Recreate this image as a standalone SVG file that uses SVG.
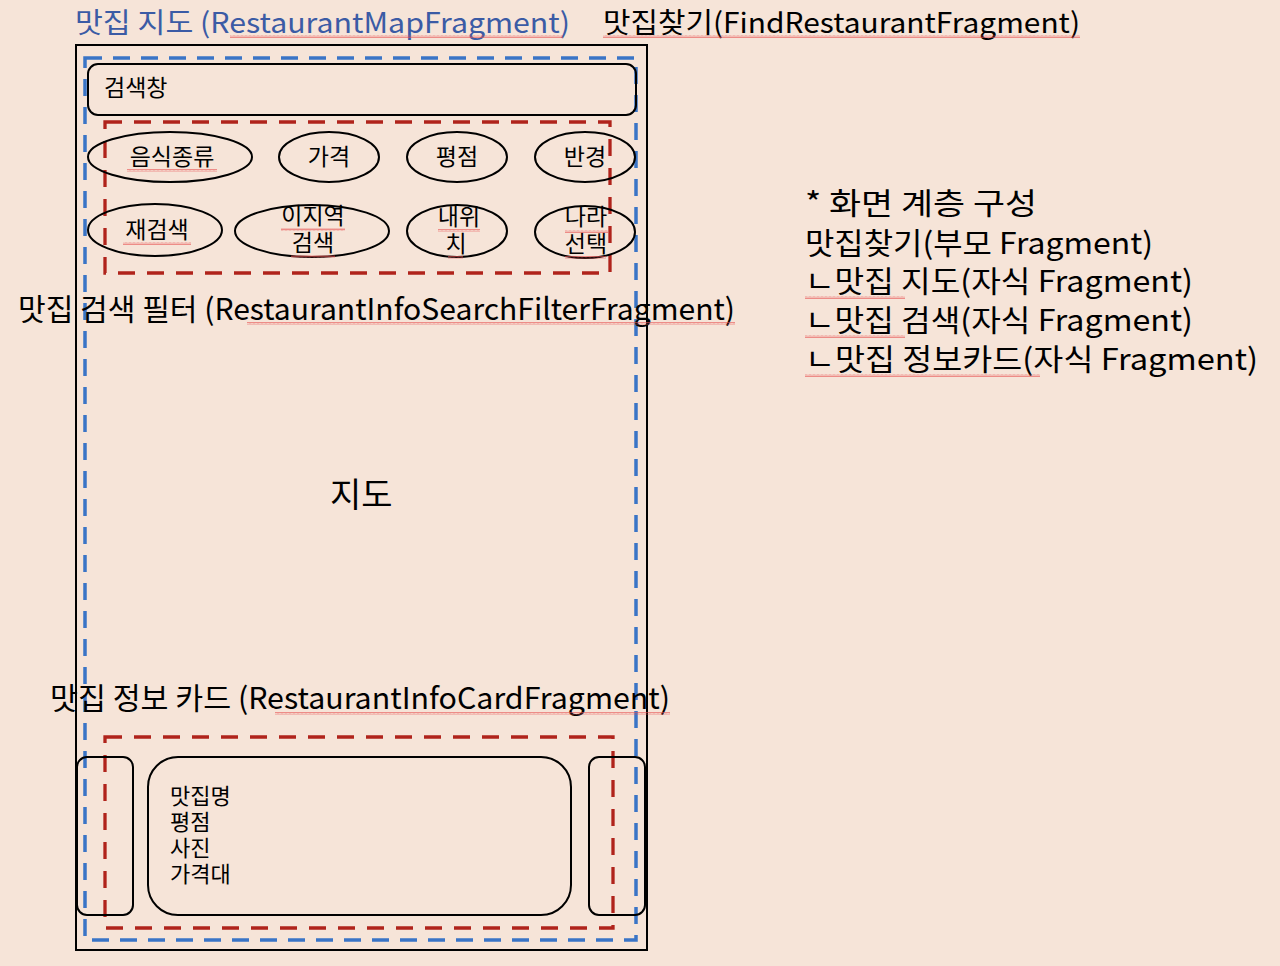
<svg xmlns="http://www.w3.org/2000/svg" width="1280" height="966" viewBox="0 0 1280 966">
<defs>
<pattern id="sq" width="4" height="3" patternUnits="userSpaceOnUse">
<path d="M0 2.5 L1 0.5 L2 2.5 L3 0.5 L4 2.5" fill="none" stroke="#E85050" stroke-width="0.6"/>
</pattern>
<style>
.t{font-family:"Noto Sans CJK KR","Noto Sans",sans-serif;fill:#000}
.blue{fill:#3B5BA5}
.box{fill:none;stroke:#000;stroke-width:2}
.bd{fill:none;stroke:#3A74C6;stroke-width:3.5;stroke-dasharray:17 11}
.rd{fill:none;stroke:#B0231B;stroke-width:3.3;stroke-dasharray:17 12}
.el{fill:none;stroke:#000;stroke-width:2}
.sq{fill:url(#sq)}
.e{font-size:23px;text-anchor:middle}
</style>
</defs>
<rect width="1280" height="966" fill="#F6E4D8"/>

<g id="phone"><rect class="box" x="76" y="45" width="571" height="905"/></g>
<g id="map-fragment"><rect class="bd" x="85" y="58" width="551" height="882"/></g>
<g id="search-box">
<rect class="box" x="88" y="64" width="548" height="51" rx="10"/>
<text class="t" x="104" y="96" font-size="23">검색창</text>
</g>
<g id="filter-fragment"><rect class="rd" x="105" y="122" width="505" height="151"/></g>

<g id="f-food"><ellipse class="el" cx="170" cy="157" rx="82" ry="25"/><text class="t e" x="172" y="165">음식종류</text></g>
<g id="f-price"><ellipse class="el" cx="329" cy="157" rx="50" ry="25"/><text class="t e" x="329" y="165">가격</text></g>
<g id="f-rating"><ellipse class="el" cx="457" cy="157" rx="50" ry="25"/><text class="t e" x="457" y="165">평점</text></g>
<g id="f-radius"><ellipse class="el" cx="585" cy="157" rx="50" ry="25"/><text class="t e" x="585" y="165">반경</text></g>
<g id="f-research"><ellipse class="el" cx="155" cy="230" rx="67" ry="26"/><text class="t e" x="157" y="238">재검색</text></g>
<g id="f-area"><ellipse class="el" cx="312" cy="231" rx="77" ry="26"/><text class="t e" x="313" y="224">이지역</text><text class="t e" x="313" y="251">검색</text></g>
<g id="f-myloc"><ellipse class="el" cx="457" cy="231" rx="50" ry="26"/><text class="t e" x="459" y="225">내위</text><text class="t e" x="456" y="252">치</text></g>
<g id="f-country"><ellipse class="el" cx="585" cy="232" rx="50" ry="26"/><text class="t e" x="586" y="225">나라</text><text class="t e" x="586" y="252">선택</text></g>

<g id="card-fragment"><rect class="rd" x="105" y="737" width="508" height="191"/></g>
<g id="card-left"><rect class="box" x="77" y="757" width="56" height="158" rx="10"/></g>
<g id="card-main">
<rect class="box" x="148" y="757" width="423" height="158" rx="30"/>
<text class="t" font-size="22"><tspan x="170" y="804">맛집명</tspan><tspan x="170" y="830">평점</tspan><tspan x="170" y="856">사진</tspan><tspan x="170" y="882">가격대</tspan></text>
</g>
<g id="card-right"><rect class="box" x="589" y="757" width="56" height="158" rx="10"/></g>

<g id="labels">
<text class="t blue" x="75" y="33" font-size="28" textLength="495" lengthAdjust="spacingAndGlyphs">맛집 지도 (RestaurantMapFragment)</text>
<text class="t" x="603" y="33" font-size="28" textLength="477" lengthAdjust="spacingAndGlyphs">맛집찾기(FindRestaurantFragment)</text>
<text class="t" x="18" y="320" font-size="30" textLength="717" lengthAdjust="spacingAndGlyphs">맛집 검색 필터 (RestaurantInfoSearchFilterFragment)</text>
<text class="t" x="330" y="507" font-size="34">지도</text>
<text class="t" x="50" y="709" font-size="30" textLength="620" lengthAdjust="spacingAndGlyphs">맛집 정보 카드 (RestaurantInfoCardFragment)</text>
<text class="t" x="805" y="214" font-size="30" textLength="232" lengthAdjust="spacingAndGlyphs">* 화면 계층 구성</text>
<text class="t" x="805" y="254" font-size="30" textLength="348" lengthAdjust="spacingAndGlyphs">맛집찾기(부모 Fragment)</text>
<text class="t" x="805" y="292" font-size="30" textLength="388" lengthAdjust="spacingAndGlyphs">ㄴ맛집 지도(자식 Fragment)</text>
<text class="t" x="805" y="331" font-size="30" textLength="388" lengthAdjust="spacingAndGlyphs">ㄴ맛집 검색(자식 Fragment)</text>
<text class="t" x="805" y="370" font-size="30" textLength="453" lengthAdjust="spacingAndGlyphs">ㄴ맛집 정보카드(자식 Fragment)</text>
</g>

<g id="spellcheck">
<rect class="sq" x="230" y="35" width="333" height="3"/>
<rect class="sq" x="603" y="35" width="477" height="3"/>
<rect class="sq" x="127" y="169" width="90" height="3"/>
<rect class="sq" x="123" y="242" width="68" height="3"/>
<rect class="sq" x="281" y="228" width="64" height="3"/>
<rect class="sq" x="291" y="255" width="44" height="3"/>
<rect class="sq" x="438" y="229" width="42" height="3"/>
<rect class="sq" x="448" y="256" width="15" height="3"/>
<rect class="sq" x="565" y="230" width="43" height="3"/>
<rect class="sq" x="565" y="256" width="41" height="3"/>
<rect class="sq" x="247" y="322" width="488" height="3"/>
<rect class="sq" x="805" y="296" width="100" height="3"/>
<rect class="sq" x="805" y="335" width="100" height="3"/>
<rect class="sq" x="805" y="374" width="235" height="3"/>
<rect class="sq" x="275" y="712" width="395" height="3"/>
</g>
</svg>
